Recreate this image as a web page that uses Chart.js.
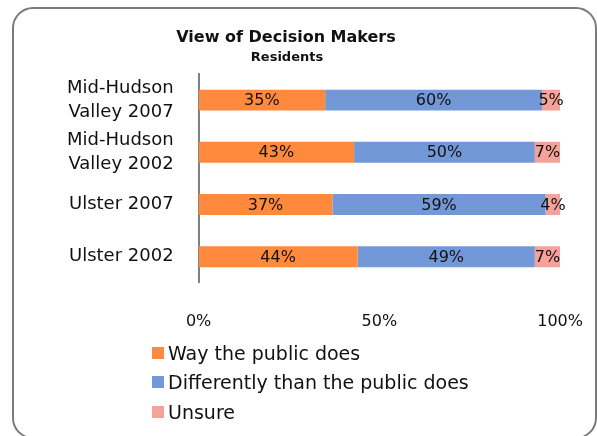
<!DOCTYPE html>
<html>
<head>
<meta charset="utf-8">
<title>View of Decision Makers</title>
<script src="https://cdn.jsdelivr.net/npm/chart.js@4/dist/chart.umd.min.js"></script>
<style>
  html, body { margin: 0; padding: 0; background: #fff; overflow: hidden; }
  #frame {
    position: absolute; left: 12px; top: 7px; width: 585px; height: 432px;
    box-sizing: border-box; border: 2px solid #7a7a7a; border-radius: 21px;
  }
  #chart { position: absolute; left: 0; top: 0; }
  #legend {
    position: absolute; left: 152px; top: 338px; margin: 0; padding: 0; list-style: none;
    font-family: "DejaVu Sans", sans-serif; font-size: 19px; color: #111;
  }
  #legend li { display: flex; align-items: center; height: 29.5px; }
  #legend span.box { width: 12px; height: 12px; margin-right: 4px; flex: none; }
</style>
</head>
<body>
<div id="frame"></div>
<canvas id="chart" width="597" height="436"></canvas>
<ul id="legend"></ul>
<script>
// 数据
const categories = [['Mid-Hudson', 'Valley 2007'], ['Mid-Hudson', 'Valley 2002'], 'Ulster 2007', 'Ulster 2002'];
const seriesNames = ['Way the public does', 'Differently than the public does', 'Unsure'];
const wayPublicDoes = [35, 43, 37, 44];
const differently = [60, 50, 59, 49];
const unsure = [5, 7, 4, 7];
const xTicks = [0, 50, 100];
const titleText = 'View of Decision Makers';
const subtitleText = 'Residents';

const colors = ['#ff8a3d', '#7398d8', '#f4a29a'];
const FONT = '"DejaVu Sans", sans-serif';

// 标题（居中位置与图表区不同，单独绘制）
const titlePlugin = {
    id: 'titlePlugin',
    afterDraw(chart) {
        const ctx = chart.ctx;
        ctx.save();
        ctx.fillStyle = '#111';
        ctx.textAlign = 'center';
        ctx.textBaseline = 'middle';
        ctx.font = 'bold 16px ' + FONT;
        ctx.fillText(titleText, 286, 38);
        ctx.font = 'bold 13px ' + FONT;
        ctx.fillText(subtitleText, 287, 58);
        ctx.restore();
    }
};

// 条形中间的百分比标签
const barValueLabels = {
    id: 'barValueLabels',
    afterDatasetsDraw(chart) {
        const ctx = chart.ctx;
        ctx.save();
        ctx.font = '16px ' + FONT;
        ctx.fillStyle = '#111';
        ctx.textAlign = 'center';
        ctx.textBaseline = 'middle';
        chart.data.datasets.forEach((ds, i) => {
            chart.getDatasetMeta(i).data.forEach((bar, j) => {
                const c = bar.getCenterPoint();
                ctx.fillText(ds.data[j] + '%', c.x, c.y + 1);
            });
        });
        ctx.restore();
    }
};

const chart = new Chart(document.getElementById('chart'), {
    type: 'bar',
    data: {
        labels: categories,
        datasets: [
            { label: seriesNames[0], data: wayPublicDoes, backgroundColor: colors[0] },
            { label: seriesNames[1], data: differently, backgroundColor: colors[1] },
            { label: seriesNames[2], data: unsure, backgroundColor: colors[2] }
        ]
    },
    options: {
        indexAxis: 'y',
        responsive: false,
        animation: false,
        events: [],
        layout: { padding: { left: 42, right: 0, top: 74, bottom: 91 } },
        datasets: {
            bar: { categoryPercentage: 1, barPercentage: 0.4, borderWidth: 0 }
        },
        plugins: {
            legend: { display: false },
            title: { display: false },
            tooltip: { enabled: false }
        },
        scales: {
            x: {
                stacked: true,
                min: 0,
                max: 100,
                afterBuildTicks(scale) {
                    scale.ticks = xTicks.map(v => ({ value: v }));
                },
                // 隐藏网格线，但保留刻度长度作为标签与条形之间的间距
                grid: { display: false, drawTicks: true, tickLength: 15 },
                border: { display: false },
                ticks: {
                    padding: 14,
                    color: '#111',
                    font: { family: FONT, size: 16 },
                    maxRotation: 0,
                    callback: v => v + '%'
                }
            },
            y: {
                stacked: true,
                grid: { display: false, drawTicks: false },
                border: { display: true, color: '#808080', width: 2 },
                ticks: {
                    autoSkip: false,
                    padding: 25,
                    color: '#111',
                    font: { family: FONT, size: 18, lineHeight: 1.33 }
                }
            }
        }
    },
    plugins: [titlePlugin, barValueLabels]
});

// 图例
const legendEl = document.getElementById('legend');
chart.data.datasets.forEach(ds => {
    const li = document.createElement('li');
    const box = document.createElement('span');
    box.className = 'box';
    box.style.background = ds.backgroundColor;
    li.appendChild(box);
    li.appendChild(document.createTextNode(ds.label));
    legendEl.appendChild(li);
});
</script>
</body>
</html>
